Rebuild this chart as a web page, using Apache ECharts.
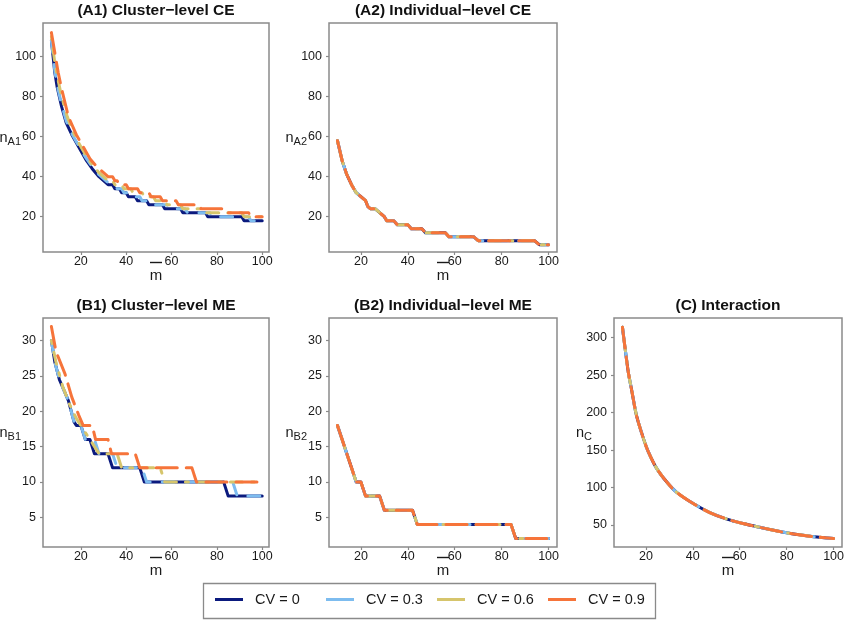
<!DOCTYPE html>
<html>
<head>
<meta charset="utf-8">
<script src="https://cdn.jsdelivr.net/npm/echarts@6/dist/echarts.min.js"></script>
<style>
html,body{margin:0;padding:0;background:#fff;}
#main{width:845px;height:621px;}
</style>
</head>
<body>
<div id="main"></div>
<script>
// ---- data ----
const cvNames = ['CV = 0', 'CV = 0.3', 'CV = 0.6', 'CV = 0.9'];
const xTicks = [20, 40, 60, 80, 100];
const yTicksA = [20, 40, 60, 80, 100];
const yTicksB = [5, 10, 15, 20, 25, 30];
const yTicksC = [50, 100, 150, 200, 250, 300];

// (A1) Cluster-level CE : [m, n]
const a1_cv0 = [[7,108],[8.5,92],[9.5,85],[11.5,75],[13.5,67],[16,61],[18,57],[20,53],[22.5,48],[25,44],[28,40],[30,38],[32,36],[34,36],[35,34],[37,34],[38,32],[40,32],[41,30],[44,30],[45,28],[49,28],[50,26],[56,26],[57,24],[64,24],[65,22],[75,22],[76,20],[91,20],[92,18],[100,18]];
const a1_cv3 = [[7,108],[8.5,93],[9.5,86],[11.5,76],[13.5,68],[16,61.5],[18,57.5],[20,53.5],[22.5,49],[25,45],[28,41],[30,39],[32,37],[34,36],[36,34],[38,34],[39,32],[41,32],[42,30],[46,30],[47,28],[51,28],[52,26],[58,26],[59,24],[66,24],[67,22],[77,22],[78,20],[94,20],[95,18],[100,18]];
const a1_cv6 = [[7,110],[8.5,97],[10,88],[11.5,80],[14,70],[16,64],[18,59],[20,55],[22.5,50],[25,46],[28,42],[30,40],[32,38],[34,38],[35,36],[38,36],[39,34],[42,34],[43,32],[47,32],[48,30],[52,30],[53,28],[57,28],[58,26],[64,26],[65,24],[73,24],[74,22],[91,22],[92,20],[100,20]];
const a1_cv9 = [[7,112],[8.5,102],[10,92],[11.5,84],[14.5,70],[18,61],[21,55],[24,49],[27,45],[30,42],[32,40],[34,40],[35,38],[36,38],[37,36],[40,36],[41,34],[45,34],[46,32],[50,32],[51,30],[55,30],[56,28],[62,28],[63,26],[72,26],[73,24],[83,24],[84,22],[94,22],[95,20],[100,20]];

// (A2) Individual-level CE (all CV curves coincide)
const a2_all = [[10,58],[12,48],[14,41],[16,36],[18,32],[20,30],[22,28],[23,25],[24,24],[26,24],[28,22],[30,20],[31,18],[34,18],[35.5,16],[40,16],[41.5,14],[46,14],[47.5,12],[56,12],[57.5,10],[68,10],[70,8],[94,8],[96,6],[100,6]];

// (B1) Cluster-level ME
const b1_cv0 = [[7,30],[8.5,27],[10.5,24.5],[14.5,21.5],[17,18.5],[18,18],[20,18],[22,16],[24,16],[26,14],[32,14],[34,12],[46,12],[48,10],[83,10],[85,8],[100,8]];
const b1_cv3 = [[7,30],[8.5,27],[10.5,24.5],[14.5,21.5],[17,18.5],[18,18],[20,18],[22,16],[26,16],[28,14],[34,14],[36,12],[47,12],[49,10],[87,10],[89,8],[100,8]];
const b1_cv6 = [[7,30],[9,27],[12,23.5],[15,21],[18,19],[20,18],[22,17],[24,16],[26,15],[28,14],[36,14],[38,12],[55,12],[57,10],[100,10]];
const b1_cv9 = [[7,32],[9,28.5],[13,25.3],[16,22],[19,19.5],[21,18],[25,18],[26.5,16],[32,16],[33.5,14],[44,14],[46,12],[69,12],[71,10],[100,10]];

// (B2) Individual-level ME (all CV curves coincide)
const b2_all = [[10,18],[12,16],[14,14],[16,12],[18,10],[20,10],[22,8],[28,8],[30,6],[42,6],[44,4],[84,4],[86,2],[100,2]];

// (C) Interaction (all CV curves coincide)
const c_all = [[10,314],[11,289],[12.5,254],[14,229],[16,196],[19,165],[21,148],[24.5,126],[29,107],[33,94],[40,79],[47,67],[54.5,58],[61.5,52],[68.5,47],[76,42],[83,38],[91.5,34.5],[100,32]];

// ---- styling ----
const FONT = 'Liberation Sans, Arial, Helvetica, sans-serif';
const TXT = '#1a1a1a';
const colors = ['#0B1A7E', '#7DBCEF', '#D6C56C', '#F6743A'];
const dashes = ['solid', [12, 12], [3, 9, 12, 9], [21, 9]];

const panels = [
  {title: '(A1) Cluster\u2212level CE', sub: 'A1', grid: {left: 43, top: 23, width: 226, height: 229}, x: [3.3, 103.0], y: [2.35, 116.8], yt: yTicksA, data: [a1_cv0, a1_cv3, a1_cv6, a1_cv9]},
  {title: '(A2) Individual\u2212level CE', sub: 'A2', grid: {left: 329, top: 23, width: 228, height: 229}, x: [6.4, 103.6], y: [2.35, 116.8], yt: yTicksA, data: [a2_all, a2_all, a2_all, a2_all]},
  {title: '(B1) Cluster\u2212level ME', sub: 'B1', grid: {left: 43, top: 318, width: 226, height: 229}, x: [3.3, 103.0], y: [0.8, 33.2], yt: yTicksB, data: [b1_cv0, b1_cv3, b1_cv6, b1_cv9]},
  {title: '(B2) Individual\u2212level ME', sub: 'B2', grid: {left: 329, top: 318, width: 228, height: 229}, x: [6.4, 103.6], y: [0.8, 33.2], yt: yTicksB, data: [b2_all, b2_all, b2_all, b2_all]},
  {title: '(C) Interaction', sub: 'C', grid: {left: 614, top: 318, width: 228, height: 229}, x: [6.4, 103.6], y: [20.7, 326.3], yt: yTicksC, data: [c_all, c_all, c_all, c_all], smooth: 0.3}
];

const grids = [], xAxes = [], yAxes = [], series = [], graphics = [];
panels.forEach((p, i) => {
  grids.push(Object.assign({show: true, borderColor: '#8a8a8a', borderWidth: 1.5, backgroundColor: '#fff', containLabel: false, outerBoundsMode: 'none'}, p.grid));
  xAxes.push({
    gridIndex: i, type: 'value', min: p.x[0], max: p.x[1],
    name: '{bar| }\n{m|m}', nameLocation: 'middle', nameGap: 5, nameMoveOverlap: false,
    nameTextStyle: {rich: {
      bar: {width: 12, height: 1.4, backgroundColor: TXT, fontSize: 1, lineHeight: 11},
      m: {fontSize: 15, color: TXT, fontFamily: FONT, lineHeight: 15}
    }},
    axisLine: {show: false},
    axisTick: {show: true, length: 3, customValues: xTicks, lineStyle: {color: '#8a8a8a', width: 1.2}},
    axisLabel: {customValues: xTicks, fontSize: 12.5, color: TXT, fontFamily: FONT, margin: 3},
    splitLine: {show: false}
  });
  yAxes.push({
    gridIndex: i, type: 'value', min: p.y[0], max: p.y[1],
    name: '{n|n}{s|' + p.sub + '}', nameLocation: 'middle', nameRotate: 0, nameGap: 22, nameMoveOverlap: false,
    nameTextStyle: {rich: {
      n: {fontSize: 14.5, color: TXT, fontFamily: FONT},
      s: {fontSize: 11, color: TXT, fontFamily: FONT, padding: [8, 0, 0, 0]}
    }},
    axisLine: {show: false},
    axisTick: {show: true, length: 3, customValues: p.yt, lineStyle: {color: '#8a8a8a', width: 1.2}},
    axisLabel: {customValues: p.yt, fontSize: 12.5, color: TXT, fontFamily: FONT, margin: 7},
    splitLine: {show: false}
  });
  p.data.forEach((d, k) => {
    series.push({
      name: cvNames[k], type: 'line', xAxisIndex: i, yAxisIndex: i,
      data: d, symbol: 'none', showSymbol: false, smooth: p.smooth || false,
      lineStyle: {color: colors[k], width: 3, type: dashes[k], cap: 'round', join: 'round'},
      itemStyle: {color: colors[k]},
      emphasis: {disabled: true}, z: 2 + k
    });
  });
  graphics.push({
    type: 'text', x: p.grid.left + p.grid.width / 2, y: p.grid.top - 12,
    style: {text: p.title, fill: '#111', font: 'bold 15.5px ' + FONT, textAlign: 'center', textVerticalAlign: 'middle'}
  });
});

// legend frame + one legend component per column (equal-width columns)
graphics.push({
  type: 'rect', shape: {x: 203.5, y: 583.5, width: 452, height: 35},
  style: {fill: '#fff', stroke: '#8a8a8a', lineWidth: 1.3}, z: -1
});
const legendCols = [215, 326, 437, 548];
const legends = cvNames.map((nm, k) => ({
  data: [nm], left: legendCols[k], top: 592, orient: 'horizontal',
  padding: 0, itemWidth: 28, itemHeight: 3, icon: 'rect',
  selectedMode: false,
  textStyle: {fontSize: 14.5, color: TXT, fontFamily: FONT, padding: [0, 0, 0, 7]}
}));

const chart = echarts.init(document.getElementById('main'), null, {renderer: 'canvas'});
chart.setOption({
  animation: false,
  backgroundColor: '#fff',
  textStyle: {fontFamily: FONT},
  grid: grids,
  xAxis: xAxes,
  yAxis: yAxes,
  series: series,
  graphic: graphics,
  legend: legends
});
</script>
</body>
</html>
